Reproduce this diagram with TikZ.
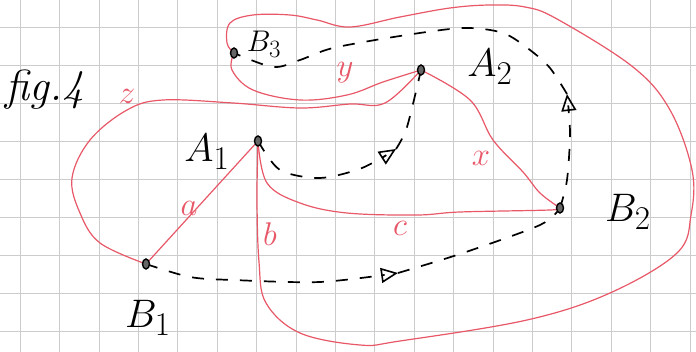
\documentclass[tikz,border=0pt]{standalone}
\usepackage{tikz}
\usetikzlibrary{arrows.meta, shapes.geometric}
\definecolor{stift}{RGB}{232,88,104}
\begin{document}
\begin{tikzpicture}[x=1pt, y=-1pt,
				>={Triangle[open,length=17pt,width=15pt,line width=1.6pt]},   %offene Pfeilspitzen
				punkt/.style={ellipse, draw=black, fill=black!60, line width=1.4pt, minimum width=7pt, minimum height=10pt, inner sep=0pt},
				rot/.style={color=stift, line width=1.2pt},
				strich/.style={black, line width=1.7pt, dash pattern=on 12pt off 12pt},
				beschr/.style={font=\Huge, scale=1.6},
				kante/.style={text=stift, font=\LARGE, scale=1.9}]
				%Rahmen
				\useasboundingbox (0,0) rectangle (696,352);
				\fill[white] (0,0) rectangle (696,352);
				%Raster zeichnen
				\foreach \i in {0,...,17} \draw[gray!40, line width=0.6pt] (20+39.4*\i,0) -- (20+39.4*\i,352);
				\foreach \j in {0,...,8} \draw[gray!40, line width=0.6pt] (0,27+38.1*\j) -- (696,27+38.1*\j);
				%Punkte
				\coordinate (A1) at (258,141);
				\coordinate (A2) at (421,70);
				\coordinate (B1) at (146,264);
				\coordinate (B2) at (560,208);
				\coordinate (B3) at (234,53);
				\coordinate (m1) at (398,273);
				\coordinate (m2) at (396,149);
				\coordinate (m3) at (567,94);
				%Kanten (rot)
				\draw[rot] (A1) -- (B1);
				\draw[rot] plot[smooth, tension=0.6] coordinates {(A1) (257,200) (259,262) (266,303) (300,333) (360,345) (400,341) (527,320) (610,293) (677,253) (691,215) (692,170) (670,110) (633,67) (557,19) (525,7) (490,5) (450,8) (400,17) (350,27) (317,20) (290,15) (253,15) (230,23) (227,43) (B3)};
				\draw[rot] plot[smooth, tension=0.6] coordinates {(A1) (267,183) (300,203) (347,213) (417,215) (460,212) (550,210) (B2)};
				\draw[rot] plot[smooth, tension=0.6] coordinates {(A2) (470,100) (493,140) (523,172) (540,193) (B2)};
				\draw[rot] plot[smooth, tension=0.6] coordinates {(B3) (232,70) (253,90) (300,100) (347,95) (383,82) (A2)};
				\draw[rot] plot[smooth, tension=0.6] coordinates {(B1) (100,243) (80,213) (72,178) (90,140) (127,110) (163,100) (233,103) (300,108) (350,104) (385,103) (A2)};
				%Kanten beschriften
				\node[kante] (la) at (189,208) {$a$};
				\node[kante] (lb) at (270,234) {$b$};
				\node[kante] (lc) at (400,228) {$c$};
				\node[kante] (lx) at (481,158) {$x$};
				\node[kante] (ly) at (345,73) {$y$};
				\node[kante] (lz) at (127,96) {$z$};
				%Pfeile gestrichelt
				\draw[strich,->] plot[smooth] coordinates {(B1) (190,277) (233,280) (320,282) (m1)};
				\draw[strich] plot[smooth] coordinates {(m1) (463,253) (540,225) (B2)};
				\draw[strich,->] plot[smooth] coordinates {(A1) (280,170) (320,178) (362,168) (m2)};
				\draw[strich] plot[smooth] coordinates {(m2) (407,127) (A2)};
				\draw[strich,->] plot[smooth] coordinates {(B2) (567,180) (570,133) (m3)};
				\draw[strich] plot[smooth] coordinates {(m3) (550,68) (530,50) (503,33) (463,28) (400,36) (333,48) (300,60) (273,67) (B3)};
				%Punkte zeichnen
				\foreach \p in {A1,A2,B1,B2,B3} \node[punkt] (p\p) at (\p) {};
				%Beschriftung
				\node[beschr] (nA1) at (207,152) {$A_1$};
				\node[beschr] (nA2) at (490,67) {$A_2$};
				\node[beschr] (nB1) at (148,318) {$B_1$};
				\node[beschr] (nB2) at (628,212) {$B_2$};
				\node[beschr, scale=0.75] (nB3) at (264,44) {$B_3$};
				\node[font=\Huge\itshape, scale=1.75] (fig) at (45,90) {fig.4};
			\end{tikzpicture}
\end{document}
